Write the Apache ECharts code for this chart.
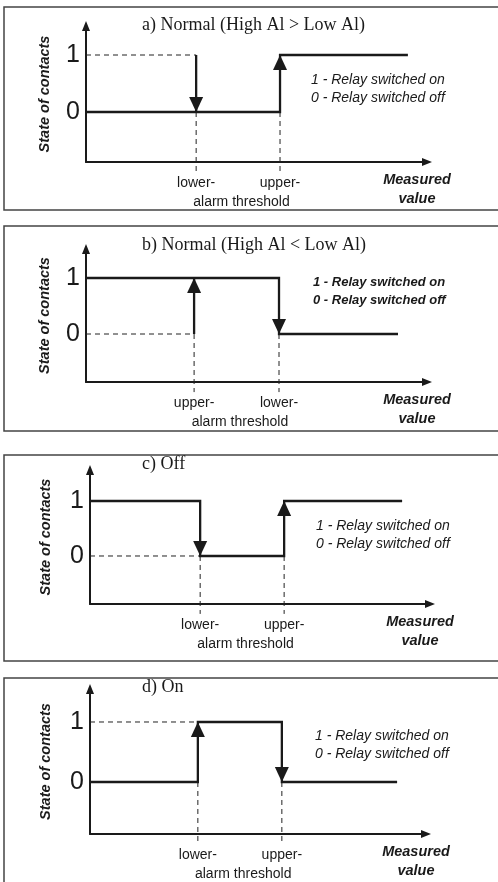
<!DOCTYPE html>
<html>
<head>
<meta charset="utf-8">
<script src="https://cdn.jsdelivr.net/npm/echarts@6/dist/echarts.min.js"></script>
<style>
  html, body { margin: 0; padding: 0; background: #fff; }
  #chart { width: 498px; height: 882px; }
</style>
</head>
<body>
<div id="chart"></div>
<script>
// Relay contact state versus measured value for the four relay operating modes.

const panelTitles = ['a) Normal (High Al > Low Al)', 'b) Normal (High Al < Low Al)', 'c) Off', 'd) On'];
const stateTicks = [0, 1];
const noteText = '1 - Relay switched on\n0 - Relay switched off';
const yAxisName = 'State of contacts';
const xAxisName = 'Measured\nvalue';
const thresholdCaption = 'alarm threshold';

// Threshold positions on the measured-value axis (0..100) and their names
const thresholdsA = [32.3, 56.9];
const thresholdsB = [31.7, 56.6];
const thresholdsC = [32.4, 57.1];
const thresholdsD = [32.1, 57.1];
const thresholdNamesA = ['lower-', 'upper-'];
const thresholdNamesB = ['upper-', 'lower-'];
const thresholdNamesC = ['lower-', 'upper-'];
const thresholdNamesD = ['lower-', 'upper-'];

// Contact state paths as [measured value, state]
const pathsA = [[[0, 0], [56.9, 0], [56.9, 1], [94.4, 1]], [[32.3, 1], [32.3, 0]]];
const pathsB = [[[0, 1], [56.6, 1], [56.6, 0], [91.5, 0]], [[31.7, 0], [31.7, 1]]];
const pathsC = [[[0, 1], [32.4, 1], [32.4, 0], [57.1, 0], [57.1, 1], [91.8, 1]]];
const pathsD = [[[0, 0], [32.1, 0], [32.1, 1], [57.1, 1], [57.1, 0], [91.4, 0]]];

// Switching direction markers
const arrowsUpA = [[56.9, 1]];
const arrowsDownA = [[32.3, 0]];
const arrowsUpB = [[31.7, 1]];
const arrowsDownB = [[56.6, 0]];
const arrowsUpC = [[57.1, 1]];
const arrowsDownC = [[32.4, 0]];
const arrowsUpD = [[32.1, 1]];
const arrowsDownD = [[57.1, 0]];

// Dashed horizontal guide from the state axis to the first threshold
const guideA = [[0, 1], [32.3, 1]];
const guideB = [[0, 0], [31.7, 0]];
const guideC = [[0, 0], [32.4, 0]];
const guideD = [[0, 1], [32.1, 1]];

const panels = [
  { thresholds: thresholdsA, names: thresholdNamesA, paths: pathsA, up: arrowsUpA, down: arrowsDownA, guide: guideA },
  { thresholds: thresholdsB, names: thresholdNamesB, paths: pathsB, up: arrowsUpB, down: arrowsDownB, guide: guideB },
  { thresholds: thresholdsC, names: thresholdNamesC, paths: pathsC, up: arrowsUpC, down: arrowsDownC, guide: guideC },
  { thresholds: thresholdsD, names: thresholdNamesD, paths: pathsD, up: arrowsUpD, down: arrowsDownD, guide: guideD }
];

// Page layout of each panel (pixels)
const layouts = [
  { left: 86, right: 71, top: 26,  height: 136, yMin: -0.877, yMax: 1.509, boxTop: 7,   boxBottom: 210, titleTop: 15,  noteLeft: 311, noteTop: 71,  noteBold: false, nameGap: 34 },
  { left: 86, right: 71, top: 249, height: 133, yMin: -0.857, yMax: 1.518, boxTop: 226, boxBottom: 431, titleTop: 235, noteLeft: 313, noteTop: 273, noteBold: true,  nameGap: 34 },
  { left: 90, right: 68, top: 470, height: 134, yMin: -0.873, yMax: 1.564, boxTop: 455, boxBottom: 661, titleTop: 454, noteLeft: 316, noteTop: 517, noteBold: false, nameGap: 37 },
  { left: 90, right: 72, top: 689, height: 145, yMin: -0.867, yMax: 1.550, boxTop: 678, boxBottom: 900, titleTop: 677, noteLeft: 315, noteTop: 727, noteBold: false, nameGap: 37 }
];

const INK = '#1a1a1a';
const SANS = '"Liberation Sans", Arial, sans-serif';
const SERIF = '"Liberation Serif", "Times New Roman", serif';
const GUIDE_DEPTH = 0.18; // how far the threshold guides run below the measured-value axis

const grids = [], xAxes = [], yAxes = [], series = [], titles = [], graphics = [];

panels.forEach(function (p, i) {
  const L = layouts[i];
  grids.push({ left: L.left, right: L.right, top: L.top, height: L.height, containLabel: false, outerBoundsMode: 'none' });

  xAxes.push({
    gridIndex: i, type: 'value', min: 0, max: 100,
    splitLine: { show: false }, axisTick: { show: false },
    axisLine: { onZero: false, lineStyle: { color: INK, width: 2 }, symbol: ['none', 'triangle'], symbolSize: [8, 10] },
    axisLabel: {
      customValues: p.thresholds, margin: 12, color: INK, fontFamily: SANS, fontSize: 14, lineHeight: 18,
      hideOverlap: false,
      formatter: function (v, idx) {
        let k = p.thresholds.indexOf(v);
        if (k < 0) k = idx;
        return p.names[k] || '';
      }
    },
    name: xAxisName, nameLocation: 'end', nameGap: -10,
    nameTextStyle: { align: 'center', verticalAlign: 'top', color: INK, fontFamily: SANS, fontWeight: 'bold', fontStyle: 'italic', fontSize: 14.5, lineHeight: 19, padding: [8, 0, 0, 0] }
  });

  yAxes.push({
    gridIndex: i, type: 'value', min: L.yMin, max: L.yMax,
    splitLine: { show: false }, axisTick: { show: false },
    axisLine: { onZero: false, lineStyle: { color: INK, width: 2 }, symbol: ['none', 'triangle'], symbolSize: [8, 10] },
    axisLabel: { customValues: stateTicks, margin: 6, color: INK, fontFamily: SANS, fontSize: 25 },
    name: yAxisName, nameLocation: 'middle', nameGap: L.nameGap,
    nameTextStyle: { color: INK, fontFamily: SANS, fontWeight: 'bold', fontStyle: 'italic', fontSize: 14.5 }
  });

  // dashed guides
  series.push({
    type: 'line', xAxisIndex: i, yAxisIndex: i, data: p.guide, showSymbol: false, silent: true, animation: false,
    lineStyle: { color: '#222', width: 1, type: [5, 4] }
  });
  p.thresholds.forEach(function (t) {
    series.push({
      type: 'line', xAxisIndex: i, yAxisIndex: i, data: [[t, 0], [t, L.yMin - GUIDE_DEPTH]], clip: false,
      showSymbol: false, silent: true, animation: false,
      lineStyle: { color: '#222', width: 1, type: [5, 4] }
    });
  });

  // caption shared by both thresholds, centred between them under the axis
  series.push({
    type: 'scatter', xAxisIndex: i, yAxisIndex: i, clip: false, silent: true, animation: false,
    symbolSize: 1, itemStyle: { color: 'rgba(0,0,0,0)', opacity: 1 },
    data: [[(p.thresholds[0] + p.thresholds[1]) / 2 + 1, L.yMin]],
    label: { show: true, position: 'bottom', distance: 33, formatter: thresholdCaption, color: INK, fontFamily: SANS, fontSize: 14 }
  });

  // contact state
  p.paths.forEach(function (path) {
    series.push({
      type: 'line', xAxisIndex: i, yAxisIndex: i, data: path, showSymbol: false, silent: true, animation: false,
      lineStyle: { color: INK, width: 2.3, join: 'miter', cap: 'butt' }, z: 3
    });
  });

  // switching arrows
  series.push({
    type: 'scatter', xAxisIndex: i, yAxisIndex: i, data: p.up, symbol: 'triangle', symbolSize: [14, 15],
    symbolOffset: [0, 7.5], itemStyle: { color: INK, opacity: 1 }, silent: true, animation: false, z: 4
  });
  series.push({
    type: 'scatter', xAxisIndex: i, yAxisIndex: i, data: p.down, symbol: 'triangle', symbolSize: [14, 15],
    symbolRotate: 180, symbolOffset: [0, -7.5], itemStyle: { color: INK, opacity: 1 }, silent: true, animation: false, z: 4
  });

  titles.push({
    text: panelTitles[i], left: 142, top: L.titleTop, padding: 0,
    textStyle: { fontFamily: SERIF, fontWeight: 'normal', fontSize: 18, lineHeight: 20, color: INK }
  });
  titles.push({
    text: noteText, left: L.noteLeft, top: L.noteTop, padding: 0,
    textStyle: { fontFamily: SANS, fontWeight: L.noteBold ? 'bold' : 'normal', fontStyle: 'italic', fontSize: L.noteBold ? 13 : 14, lineHeight: 18, color: INK }
  });

  graphics.push({
    type: 'rect', silent: true, z: -1,
    shape: { x: 4, y: L.boxTop, width: 520, height: L.boxBottom - L.boxTop },
    style: { fill: 'none', stroke: '#444', lineWidth: 1.5 }
  });
});

const chart = echarts.init(document.getElementById('chart'), null, { renderer: 'canvas' });
chart.setOption({
  backgroundColor: '#fff',
  animation: false,
  title: titles,
  grid: grids,
  xAxis: xAxes,
  yAxis: yAxes,
  series: series,
  graphic: graphics
});
</script>
</body>
</html>
